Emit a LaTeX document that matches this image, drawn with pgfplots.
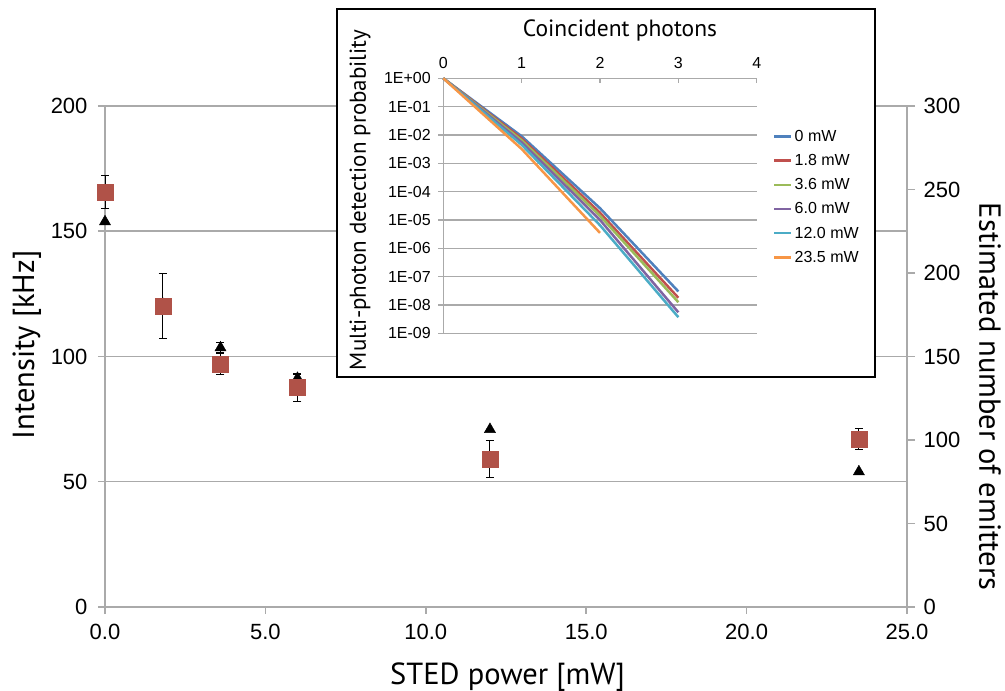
\documentclass[border=0pt]{standalone}
\usepackage{pgfplots}
\pgfplotsset{compat=1.18}
\usepackage{fontspec}
\setmainfont{Liberation Sans}
\newfontfamily\myriad{PT Sans}
\definecolor{gridgray}{RGB}{170,170,170}
\definecolor{sqred}{RGB}{176,82,72}
\definecolor{xblue}{HTML}{4F81BD}
\definecolor{xred}{HTML}{C0504D}
\definecolor{xgreen}{HTML}{9BBB59}
\definecolor{xpurple}{HTML}{8064A2}
\definecolor{xcyan}{HTML}{4BACC6}
\definecolor{xorange}{HTML}{F79646}
\begin{document}
\begin{tikzpicture}[x=1pt,y=1pt]
\useasboundingbox (0,0) rectangle (1005,691);
% ---------- main axis (left: intensity) ----------
\begin{axis}[
  at={(105pt,84pt)}, anchor=south west, scale only axis,
  width=802pt, height=501pt,
  xmin=0, xmax=25, ymin=0, ymax=200,
  axis x line*=bottom, axis y line*=left,
  axis line style={gridgray, line width=1.5pt, -},
  xtick={0,5,...,25}, ytick={0,50,...,200},
  ymajorgrids, major grid style={gridgray, line width=1.5pt},
  tick align=outside, major tick length=7pt,
  tick style={gridgray, line width=1.5pt},
  /pgf/number format/assume math mode=true,
  tick label style={font=\fontsize{22}{26}\selectfont},
  x tick label style={yshift=-7pt, /pgf/number format/.cd, fixed, fixed zerofill, precision=1, /tikz/.cd},
  y tick label style={xshift=-7pt},
  every axis x label/.style={at={(axis description cs:0.502,-0.1397)}, anchor=center},
  every axis y label/.style={at={(axis description cs:-0.0973,0.523)}, anchor=center, rotate=90},
  xlabel={\myriad\fontsize{30.5}{35}\selectfont STED power [mW]},
  ylabel={\myriad\fontsize{30.5}{35}\selectfont Intensity [kHz]},
  clip=false,
]
\addplot[only marks, mark=triangle*, mark size=6.5pt, black,
  error bars/.cd, y dir=both, y explicit,
  error bar style={black, line width=1pt},
  error mark options={rotate=90, mark size=4pt, black, line width=1pt}]
  coordinates {
  (0,153.8) +- (0,0)
  (1.8,121.0) +- (0,0)
  (3.6,103.5) +- (0,2.1)
  (6.0,91.3) +- (0,1.8)
  (12.0,70.9) +- (0,0)
  (23.5,54.0) +- (0,0)
  };
\end{axis}
% ---------- secondary axis (right: emitters) ----------
\begin{axis}[
  at={(105pt,84pt)}, anchor=south west, scale only axis,
  width=802pt, height=501pt,
  xmin=0, xmax=25, ymin=0, ymax=300,
  axis x line=none, axis y line*=right,
  axis line style={gridgray, line width=1.5pt, -},
  ytick={0,50,...,300},
  tick align=outside, major tick length=8pt,
  tick style={gridgray, line width=1.5pt},
  /pgf/number format/assume math mode=true,
  tick label style={font=\fontsize{22}{26}\selectfont},
  y tick label style={xshift=5pt},
  every axis y label/.style={at={(axis description cs:1.1035,0.42)}, anchor=center, rotate=-90},
  ylabel={\myriad\fontsize{30.5}{35}\selectfont Estimated number of emitters},
  clip=false,
]
\addplot[only marks, mark=square*, mark size=8pt, color=sqred,
  error bars/.cd, y dir=both, y explicit,
  error bar style={black, line width=1pt},
  error mark options={rotate=90, mark size=4pt, black, line width=1pt}]
  coordinates {
  (0,248.4) +- (0,9.7)
  (1.8,180.4) +- (0,19.5)
  (3.6,145.5) +- (0,6.5)
  (6.0,131.4) +- (0,8.1)
  (12.0,88.5) +- (0,11.1)
  (23.5,100.4) +- (0,6.3)
  };
\end{axis}
% ---------- inset box ----------
\filldraw[fill=white, draw=black, line width=1.8pt] (337,314) rectangle (875,682);
\node[font=\myriad\fontsize{23.5}{27}\selectfont] at (620,661) {Coincident photons};
\node[font=\myriad\fontsize{23}{27}\selectfont, rotate=90] at (360,491) {Multi-photon detection probability};
\begin{axis}[
  at={(443.3pt,357.7pt)}, anchor=south west, scale only axis,
  width=313.4pt, height=255pt,
  xmin=0, xmax=4, ymode=log, ymin=1e-9, ymax=1,
  axis x line*=top, axis y line*=left,
  axis line style={gridgray, line width=1.2pt, -},
  xtick={0,1,2,3,4},
  ytick={1e-9,1e-8,1e-7,1e-6,1e-5,1e-4,1e-3,1e-2,1e-1,1},
  yticklabels={1E-09,1E-08,1E-07,1E-06,1E-05,1E-04,1E-03,1E-02,1E-01,1E+00},
  yminorticks=false,
  ymajorgrids, major grid style={gridgray, line width=1.2pt},
  x tick style={gridgray, line width=1.2pt}, xtick align=inside,
  y tick style={gridgray, line width=1.2pt}, ytick align=outside,
  major tick length=5pt,
  /pgf/number format/assume math mode=true,
  tick label style={font=\fontsize{16}{19}\selectfont},
  x tick label style={yshift=6pt},
  y tick label style={xshift=-4pt},
  legend style={at={(1.052,0.805)}, anchor=north west, draw=none, fill=none,
    font=\fontsize{16}{19}\selectfont, row sep=7.5pt, inner sep=0pt,
    /tikz/every even column/.append style={column sep=0pt}},
  legend cell align=left,
  legend image code/.code={\draw[#1, line width=2.5pt] (0pt,0pt) -- (17pt,0pt);},
  every axis plot/.append style={line width=2.5pt},
  clip=false,
]
\addplot[xblue] coordinates {(0,1) (1,9e-3) (2,2.6e-5) (3,3.0e-8)};
\addlegendentry{0 mW}
\addplot[xred] coordinates {(0,1) (1,7.5e-3) (2,1.8e-5) (3,1.8e-8)};
\addlegendentry{1.8 mW}
\addplot[xgreen] coordinates {(0,1) (1,6.5e-3) (2,1.4e-5) (3,1.25e-8)};
\addlegendentry{3.6 mW}
\addplot[xpurple] coordinates {(0,1) (1,5.5e-3) (2,1.0e-5) (3,5.5e-9)};
\addlegendentry{6.0 mW}
\addplot[xcyan] coordinates {(0,1) (1,4.5e-3) (2,6.5e-6) (3,3.7e-9)};
\addlegendentry{12.0 mW}
\addplot[xorange] coordinates {(0,1) (1,3.2e-3) (2,3.5e-6)};
\addlegendentry{23.5 mW}
\end{axis}
\end{tikzpicture}
\end{document}
